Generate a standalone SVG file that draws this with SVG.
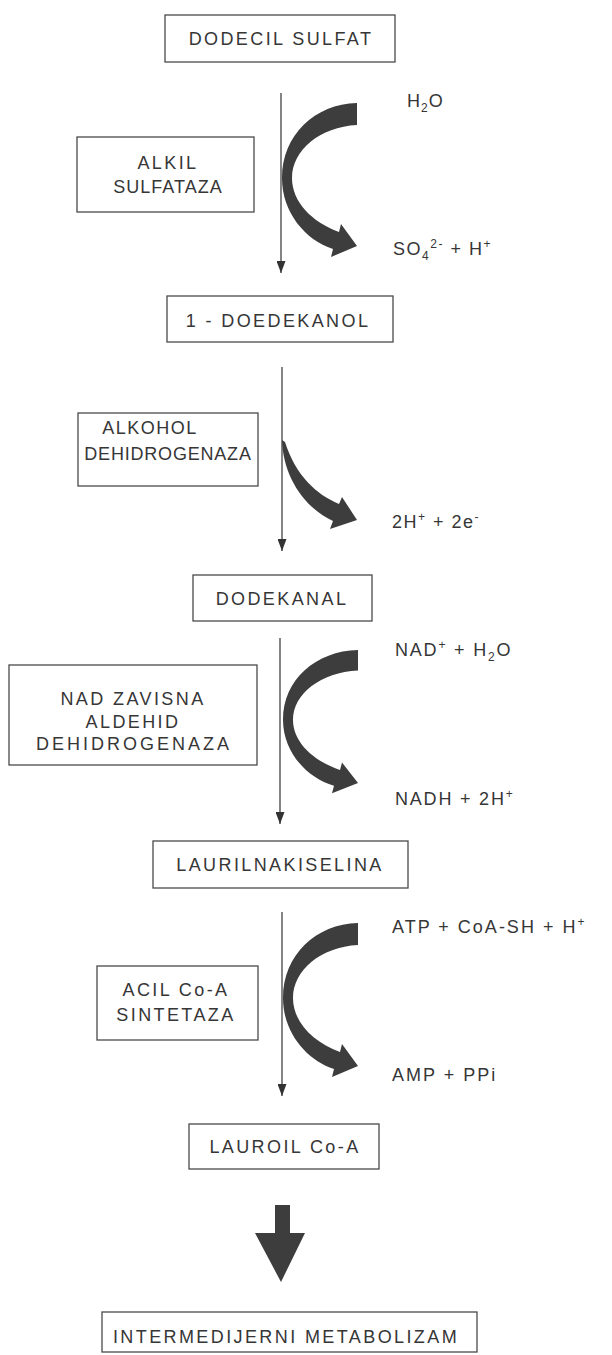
<svg xmlns="http://www.w3.org/2000/svg" width="612" height="1355" viewBox="0 0 612 1355">
<style>
.box{fill:#fff;stroke:#4a4a4a;stroke-width:1.3}
.t{font-family:"Liberation Sans",Arial,sans-serif;font-size:18px;fill:#363636;letter-spacing:2.4px}
.m{text-anchor:middle}
.ln{stroke:#333;stroke-width:1.2;fill:none;marker-end:url(#ah)}
.band{fill:#3d3d3d}
</style>
<defs>
<marker id="ah" viewBox="0 0 12 9" refX="12" refY="4.5" markerWidth="12" markerHeight="9" markerUnits="userSpaceOnUse" orient="auto">
<path d="M0,0 L12,4.5 L0,9 Z" fill="#333"/>
</marker>
<path id="carc" d="M75,0 C33,1 0,32 0,75 C0,109 23,137 51,146 L49,154 L75,143 L59,121 L57,129 C30,119 10,99 10,75 C10,47 38,24 75,22 Z"/>
</defs>
<rect width="612" height="1355" fill="#fff"/>

<g id="connectors">
<line class="ln" x1="281" y1="93" x2="281" y2="273"/>
<line class="ln" x1="282" y1="367" x2="282" y2="551"/>
<line class="ln" x1="280" y1="638" x2="280" y2="824"/>
<line class="ln" x1="282" y1="912" x2="282" y2="1096"/>
<use href="#carc" class="band" transform="translate(282,103)"/>
<path class="band" d="M282,440 C283,475 303,507 333,521 L330,529 L357,520 L342,497 L339,504 C316,494 296,476 285,442 Z"/>
<use href="#carc" class="band" transform="translate(283,650) scale(1,0.93)"/>
<use href="#carc" class="band" transform="translate(283,923)"/>
<path class="band" d="M275,1205 L290,1205 L290,1233 L305,1233 L281,1282 L255,1233 L275,1233 Z"/>
</g>

<g id="n-dodecil">
<rect class="box" x="165" y="15" width="230" height="47"/>
<text class="t m" x="281" y="45">DODECIL SULFAT</text>
</g>
<g id="n-alkil">
<rect class="box" x="77" y="137" width="177" height="75"/>
<text class="t m" x="168" y="169">ALKIL</text>
<text class="t m" x="168" y="193" style="letter-spacing:1px">SULFATAZA</text>
</g>
<g id="n-h2o">
<text class="t" x="407" y="107" style="letter-spacing:1px">H<tspan font-size="12" dy="5">2</tspan><tspan dy="-5">O</tspan></text>
</g>
<g id="n-so4">
<text class="t" x="393" y="255" style="letter-spacing:1.5px">SO<tspan font-size="12" dy="5">4</tspan><tspan font-size="12" dy="-12">2-</tspan><tspan dy="7"> + H</tspan><tspan font-size="12" dy="-7">+</tspan></text>
</g>
<g id="n-doedekanol">
<rect class="box" x="167" y="296" width="226" height="46"/>
<text class="t m" x="278" y="327">1 - DOEDEKANOL</text>
</g>
<g id="n-alkohol">
<rect class="box" x="78" y="413" width="180" height="73"/>
<text class="t m" x="150" y="434" style="letter-spacing:1.5px">ALKOHOL</text>
<text class="t m" x="168" y="460" style="letter-spacing:0.8px">DEHIDROGENAZA</text>
</g>
<g id="n-2h">
<text class="t" x="392" y="528" style="letter-spacing:1.5px">2H<tspan font-size="12" dy="-7">+</tspan><tspan dy="7"> + 2e</tspan><tspan font-size="12" dy="-7">-</tspan></text>
</g>
<g id="n-dodekanal">
<rect class="box" x="193" y="575" width="179" height="46"/>
<text class="t m" x="282" y="605">DODEKANAL</text>
</g>
<g id="n-nad-enz">
<rect class="box" x="9" y="665" width="248" height="100"/>
<text class="t m" x="133" y="705">NAD ZAVISNA</text>
<text class="t m" x="133" y="728">ALDEHID</text>
<text class="t m" x="134" y="750" style="letter-spacing:3px">DEHIDROGENAZA</text>
</g>
<g id="n-nad">
<text class="t" x="395" y="656" style="letter-spacing:1.8px">NAD<tspan font-size="12" dy="-7">+</tspan><tspan dy="7"> + H</tspan><tspan font-size="12" dy="5">2</tspan><tspan dy="-5">O</tspan></text>
</g>
<g id="n-nadh">
<text class="t" x="395" y="805" style="letter-spacing:1.8px">NADH + 2H<tspan font-size="12" dy="-7">+</tspan></text>
</g>
<g id="n-laurilna">
<rect class="box" x="153" y="841" width="255" height="47"/>
<text class="t m" x="280" y="871">LAURILNAKISELINA</text>
</g>
<g id="n-acil">
<rect class="box" x="97" y="966" width="161" height="74"/>
<text class="t m" x="176" y="996">ACIL Co-A</text>
<text class="t m" x="176" y="1021">SINTETAZA</text>
</g>
<g id="n-atp">
<text class="t" x="392" y="933" style="letter-spacing:2px">ATP + CoA-SH + H<tspan font-size="12" dy="-7">+</tspan></text>
</g>
<g id="n-amp">
<text class="t" x="392" y="1081" style="letter-spacing:2px">AMP + PPi</text>
</g>
<g id="n-lauroil">
<rect class="box" x="189" y="1124" width="190" height="45"/>
<text class="t m" x="285" y="1153">LAUROIL Co-A</text>
</g>
<g id="n-intermed">
<rect class="box" x="102" y="1312" width="375" height="40"/>
<text class="t m" x="286" y="1343">INTERMEDIJERNI METABOLIZAM</text>
</g>
</svg>
